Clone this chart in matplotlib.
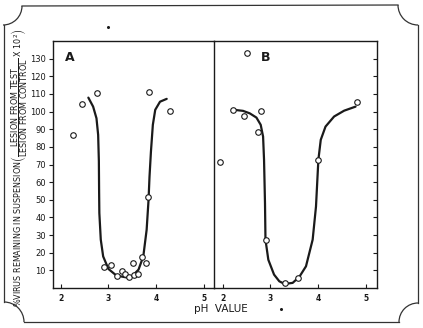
import numpy as np
import matplotlib
matplotlib.use('Agg')
import matplotlib.pyplot as plt
from matplotlib.patches import Arc

plt.rcParams['font.family'] = ['DejaVu Sans']
plt.rcParams['mathtext.fontset'] = 'dejavusans'

# --------------------------
# Data (pH vs % virus remaining)
# --------------------------
ph_a_pts = [2.25, 2.44, 2.77, 2.91, 3.05, 3.19, 3.29, 3.34, 3.43, 3.52, 3.53,
            3.61, 3.71, 3.79, 3.82, 3.84, 4.28]
virus_a_pts = [86.8, 104.3, 110.4, 12.1, 13.2, 7.0, 9.4, 8.0, 6.0, 14.0, 7.4,
               8.0, 17.7, 14.2, 51.3, 111.0, 100.5]

ph_a_curve = [2.58, 2.68, 2.75, 2.785, 2.80, 2.805, 2.81, 2.84, 2.89, 3.00, 3.17,
              3.38, 3.49, 3.63, 3.73, 3.80, 3.84, 3.86, 3.89, 3.93, 3.98,
              4.08, 4.22]
virus_a_curve = [107.9, 102.8, 96.2, 86.8, 72.0, 55.0, 42.5, 27.4, 17.9, 10.8, 7.0,
                 6.0, 6.6, 10.4, 17.9, 33.0, 50.0, 63.0, 77.3, 92.5, 101.0,
                 105.6, 107.2]

ph_b_pts = [1.95, 2.22, 2.44, 2.51, 2.74, 2.81, 2.92, 3.30, 3.58, 4.01, 4.83]
virus_b_pts = [71.3, 100.8, 97.7, 133.0, 88.7, 100.2, 27.4, 2.9, 5.7, 72.7, 105.5]

ph_b_curve = [2.24, 2.43, 2.57, 2.71, 2.80, 2.85, 2.87, 2.89, 2.90, 2.96, 3.08,
              3.19, 3.30, 3.47, 3.61, 3.75, 3.89, 3.96, 4.01, 4.06, 4.16, 4.34,
              4.55, 4.79]
virus_b_curve = [101.0, 100.4, 99.0, 96.6, 92.5, 85.8, 72.6, 48.0, 27.4, 16.0, 7.6,
                 3.8, 2.3, 2.9, 6.3, 12.3, 27.4, 46.2, 72.7, 84.0, 91.5, 97.2,
                 100.5, 102.8]

y_ticks = list(range(10, 140, 10))
x_ticks = [2, 3, 4, 5]

W, H = 423, 328
ink = '#1a1a1a'

fig = plt.figure(figsize=(W / 100, H / 100), dpi=100)
fig.patch.set_facecolor('white')

def px_axes(x0, y0, x1, y1):
    # axes from pixel box (top-left origin)
    return fig.add_axes([x0 / W, 1 - y1 / H, (x1 - x0) / W, (y1 - y0) / H])

axA = px_axes(53, 41, 214, 288)
axB = px_axes(214, 41, 377, 288)
axB.patch.set_visible(False)

for ax in (axA, axB):
    ax.set_ylim(0, 140)
    for s in ax.spines.values():
        s.set_linewidth(1.0)
        s.set_color(ink)
    ax.set_xticks(x_ticks)
    ax.set_xticklabels([str(t) for t in x_ticks], fontsize=5.5, fontweight='bold', color=ink)
    ax.tick_params(axis='x', direction='in', length=3, width=0.8, pad=4, colors=ink)

axA.set_xlim(1.84, 5.21)
axB.set_xlim(1.82, 5.24)

# Panel A: left axis with outward ticks
axA.set_yticks(y_ticks)
axA.set_yticklabels([str(t) for t in y_ticks], fontsize=6, color=ink)
axA.tick_params(axis='y', direction='out', length=3, width=0.8, pad=2, colors=ink)

# Panel B: right axis ticks inward, no labels
axB.spines['left'].set_visible(False)
axB.set_yticks(y_ticks)
axB.yaxis.tick_right()
axB.tick_params(axis='y', direction='in', length=3, width=0.8, labelright=False, colors=ink)

# Curves and points
axA.plot(ph_a_curve, virus_a_curve, color=ink, lw=1.6, solid_capstyle='round',
         solid_joinstyle='round', zorder=2)
axA.plot(ph_a_pts, virus_a_pts, 'o', ms=4, mfc='white', mec=ink, mew=0.8, zorder=3)
axB.plot(ph_b_curve, virus_b_curve, color=ink, lw=1.6, solid_capstyle='round',
         solid_joinstyle='round', zorder=2)
axB.plot(ph_b_pts, virus_b_pts, 'o', ms=4, mfc='white', mec=ink, mew=0.8, zorder=3)

axA.text(0.105, 0.935, 'A', transform=axA.transAxes, fontsize=9, fontweight='bold', color=ink,
         ha='center', va='center')
axB.text(0.315, 0.935, 'B', transform=axB.transAxes, fontsize=9, fontweight='bold', color=ink,
         ha='center', va='center')

# Overlay for decorative border and free text
ov = fig.add_axes([0, 0, 1, 1], zorder=-1)
ov.set_xlim(0, W)
ov.set_ylim(H, 0)
ov.axis('off')

bl = dict(color='#333333', lw=0.9)
ov.plot([22, 398], [6, 5], **bl)
ov.plot([4, 4], [25, 302], **bl)
ov.plot([24, 399], [322, 322], **bl)
ov.plot([418, 418], [25, 303], **bl)
for (cx, cy, r, t1, t2) in [(3, 6, 19, 0, 90), (418, 5, 20, 90, 180),
                            (4, 322, 20, 270, 360), (418, 322, 19, 180, 270)]:
    ov.add_patch(Arc((cx, cy), 2 * r, 2 * r, theta1=t1, theta2=t2, color='#333333', lw=0.9))

ov.text(221, 309, 'pH  VALUE', fontsize=7.5, color=ink, ha='center', va='center')
ov.plot([108, 281], [27, 309], 'o', ms=1.2, color=ink, ls='none')

ylabel = (r'%VIRUS REMAINING IN SUSPENSION'
          r'$\left(\dfrac{\mathrm{LESION\ FROM\ TEST}}{\mathrm{LESION\ FROM\ CONTROL}}'
          r'\ \mathrm{X}\ 10^{2}\right)$')
ov.text(20, 168, ylabel, rotation=90, fontsize=5.8, color=ink, ha='center', va='center')

fig.savefig('out.png', dpi=100, facecolor='white')
